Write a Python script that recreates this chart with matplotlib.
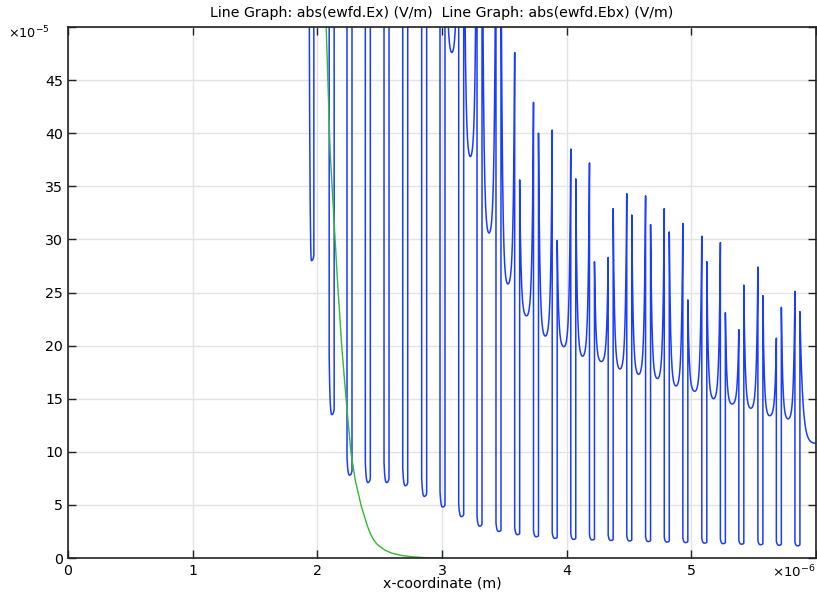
import numpy as np
import matplotlib
matplotlib.use('Agg')
import matplotlib.pyplot as plt

# values; x in units of 1e-6 m, y in units of 1e-5 V/m
# narrow low dips (teeth): centre position, left edge, minimum, right edge
tooth_x = [1.952, 2.115, 2.258, 2.405, 2.555, 2.705, 2.857, 3.004, 3.154, 3.301,
           3.453, 3.603, 3.754, 3.904, 4.053, 4.203, 4.353, 4.502, 4.653, 4.803,
           4.952, 5.104, 5.253, 5.401, 5.554, 5.702, 5.851]
tooth_left = [70, 19, 9.5, 9.0, 9.0, 8.5, 7.5, 6.3, 5.1, 3.9, 3.3, 2.9, 2.6, 2.4,
              2.3, 2.2, 2.15, 2.1, 2.0, 1.95, 1.9, 1.85, 1.8, 1.7, 1.65, 1.6, 1.5]
tooth_min = [28, 13.5, 7.8, 7.1, 7.1, 6.8, 5.8, 4.8, 3.9, 3.0, 2.5, 2.2, 2.0, 1.85,
             1.75, 1.7, 1.65, 1.6, 1.55, 1.5, 1.45, 1.4, 1.35, 1.3, 1.25, 1.2, 1.15]
tooth_right = [28.5, 14, 8.2, 7.5, 7.5, 7.1, 6.1, 5.0, 4.1, 3.2, 2.6, 2.3, 2.1, 1.95,
               1.85, 1.8, 1.75, 1.7, 1.65, 1.6, 1.55, 1.5, 1.45, 1.4, 1.35, 1.3, 1.25]

# wide regions between the dips: spike at left, lowest value, spike at right
gap_left = [90, 90, 90, 90, 90, 90, 90, 80, 75, 70, 60, 35.6, 40.0, 29.9, 35.7,
            27.9, 32.9, 32.3, 31.4, 30.7, 24.3, 27.9, 23.1, 25.7, 24.7, 23.6]
gap_min = [70, 70, 70, 70, 70, 65, 60, 47.6, 37.8, 30.6, 25.8, 22.8, 20.9, 19.9,
           19.0, 18.5, 17.8, 17.3, 16.9, 16.2, 15.7, 15.0, 14.5, 14.1, 13.4, 13.1]
gap_right = [90, 90, 90, 90, 90, 90, 90, 80, 75, 65, 47.6, 42.9, 40.3, 38.5, 37.2,
             28.3, 34.3, 34.1, 32.9, 31.5, 30.3, 29.7, 21.5, 27.4, 20.7, 25.1]
# last piece after the final dip, up to the end of the line
tail_spike = 23.2
tail_end = 10.8
x_end = 6.0

# green curve abs(ewfd.Ebx)
ebx_x = [2.03, 2.071, 2.103, 2.161, 2.196, 2.231, 2.269, 2.303, 2.352, 2.402,
         2.425, 2.45, 2.475, 2.504, 2.55, 2.598, 2.67, 2.745, 2.85, 2.99]
ebx_y = [70, 50, 38.2, 26.2, 19.9, 14.9, 10.0, 7.4, 4.9, 3.0,
         2.3, 1.75, 1.35, 1.05, 0.7, 0.45, 0.25, 0.13, 0.04, 0.0]

tooth_w = 0.04


def u_piece(x0, x1, y_l, y_m, y_r, steep, n=40, half=False):
    t = np.linspace(-1, 0 if half else 1, n)
    k = (np.cosh(steep * t) - 1) / (np.cosh(steep) - 1)
    y = np.where(t < 0, y_m + (y_l - y_m) * k, y_m + (y_r - y_m) * k)
    x = x0 + (t + 1) / (1 if half else 2) * (x1 - x0)
    return x, y


xs, ys = [], []
for i in range(len(tooth_x)):
    a = tooth_x[i] - tooth_w / 2
    b = tooth_x[i] + tooth_w / 2
    px, py = u_piece(a, b, tooth_left[i], tooth_min[i], tooth_right[i], 3.0, n=20)
    xs.append(px); ys.append(py)
    if i < len(gap_min):
        c = tooth_x[i + 1] - tooth_w / 2
        px, py = u_piece(b, c, gap_left[i], gap_min[i], gap_right[i], 5.0, n=60)
    else:
        px, py = u_piece(b, x_end, tail_spike, tail_end, tail_end, 6.0, n=60, half=True)
    xs.append(px); ys.append(py)
ex_x = np.concatenate(xs)
ex_y = np.concatenate(ys)

plt.rcParams['font.family'] = ['DejaVu Sans']
plt.rcParams['font.size'] = 10.2

fig = plt.figure(figsize=(8.17, 5.96), dpi=100)
ax = fig.add_axes([68 / 817, 38 / 596, 748 / 817, 531 / 596])

ax.plot(ex_x, ex_y, color='#1a3cff', lw=1.1)
ax.plot(ebx_x, ebx_y, color='#33b833', lw=1.0)

ax.set_xlim(0, 6)
ax.set_ylim(0, 50)
ax.set_xticks(np.arange(0, 7, 1))
ax.set_xticklabels(['0', '1', '2', '3', '4', '5', ''])
ax.set_yticks(np.arange(0, 55, 5))
ax.set_yticklabels([str(v) for v in range(0, 50, 5)] + [''])
ax.tick_params(direction='in', length=5.5, width=1, top=True, right=True, colors='#222222',
               labelcolor='black')
ax.tick_params(axis='x', pad=4.5)
ax.grid(True, color='#e3e3e3', lw=1)
ax.set_axisbelow(True)
for s in ax.spines.values():
    s.set_color('#222222')
    s.set_linewidth(1.2)

ax.set_xlabel('x-coordinate (m)', labelpad=-1)
ax.set_title('Line Graph: abs(ewfd.Ex) (V/m)  Line Graph: abs(ewfd.Ebx) (V/m)',
             pad=7, fontsize=10.2)
fig.text(8 / 817, 1 - 33 / 596, r'$\times10^{-5}$', va='center', ha='left', fontsize=9.2)
fig.text(816 / 817, 1 - 572 / 596, r'$\times10^{-6}$', va='center', ha='right', fontsize=9.6)

fig.savefig('out.png', dpi=100)
